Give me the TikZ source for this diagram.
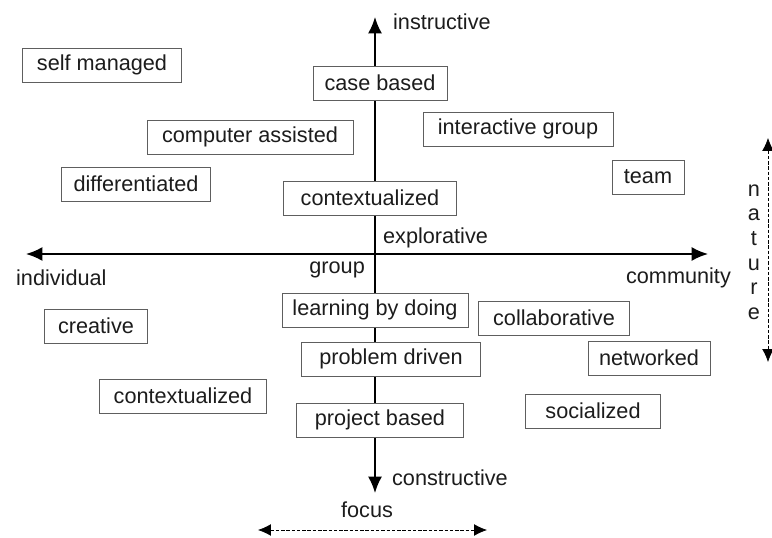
\documentclass[tikz,border=0pt]{standalone}
\usepackage{fontspec}
\setmainfont{Liberation Sans}
\usetikzlibrary{arrows.meta}

\definecolor{boxgray}{HTML}{5E5E5E}
\definecolor{textgray}{HTML}{1C1C1C}

\tikzset{
  box/.style={draw=boxgray, fill=white, line width=0.8pt, minimum height=1.02cm, inner xsep=2pt, text=textgray},
  axis/.style={line width=1.6pt, {Latex[length=14pt,width=12pt]}-{Latex[length=14pt,width=12pt]}},
  hint/.style={line width=0.6pt, dash pattern=on 3pt off 1.5pt, {Latex[length=11pt,width=10pt]}-{Latex[length=11pt,width=10pt]}},
  lab/.style={text=textgray}
}

\begin{document}
\begin{tikzpicture}[x=0.03cm,y=-0.03cm,font=\fontsize{18.5}{21}\selectfont]
        \useasboundingbox (0,0) rectangle (772,538);
        % axes
        \coordinate (W) at (26,254);
        \coordinate (E) at (708,254);
        \coordinate (N) at (375,17);
        \coordinate (S) at (375,493);
        \draw [axis] (W) -- (E);
        \draw [axis] (N) -- (S);
        \node [lab, anchor=west] (instr) at (389,22) {instructive};
        \node [lab, anchor=west] (explo) at (379,238) {explorative};
        \node [lab, anchor=east] (group) at (369,270) {group};
        \node [lab, anchor=west] (indiv) at (12,278) {individual};
        \node [lab, anchor=east] (commu) at (735,278) {community};
        \node [lab, anchor=west] (constr) at (388,478) {constructive};
        % boxes
        \node [box, minimum width=4.77cm] (A) at (102,65) {self managed};
        \node [box, minimum width=4.02cm] (B) at (380,83) {case based};
        \node [box, minimum width=6.18cm] (C) at (250,137) {computer assisted};
        \node [box, minimum width=5.70cm] (D) at (518,129) {interactive group};
        \node [box, minimum width=2.16cm] (E1) at (648,177) {team};
        \node [box, minimum width=4.47cm] (F) at (136,184) {differentiated};
        \node [box, minimum width=5.19cm] (G) at (370,198) {contextualized};
        \node [box, minimum width=5.58cm] (H) at (375,310) {learning by doing};
        \node [box, minimum width=4.53cm] (I) at (554,318) {collaborative};
        \node [box, minimum width=3.09cm] (J) at (96,326) {creative};
        \node [box, minimum width=5.37cm] (K) at (391,359) {problem driven};
        \node [box, minimum width=3.66cm] (L) at (649,358) {networked};
        \node [box, minimum width=5.01cm] (M) at (183,396) {contextualized};
        \node [box, minimum width=5.01cm] (P) at (380,420) {project based};
        \node [box, minimum width=4.05cm] (Q) at (593,411) {socialized};
        % focus and nature
        \node [lab] (focus) at (367,510) {focus};
        \coordinate (F1) at (258,530);
        \coordinate (F2) at (487,530);
        \draw [hint] (F1) -- (F2);
        \node [lab, align=center] (nature) at (754,252) {n\\a\\t\\u\\r\\e};
        \coordinate (N1) at (768,138);
        \coordinate (N2) at (768,362);
        \draw [hint] (N1) -- (N2);
    \end{tikzpicture}
\end{document}
